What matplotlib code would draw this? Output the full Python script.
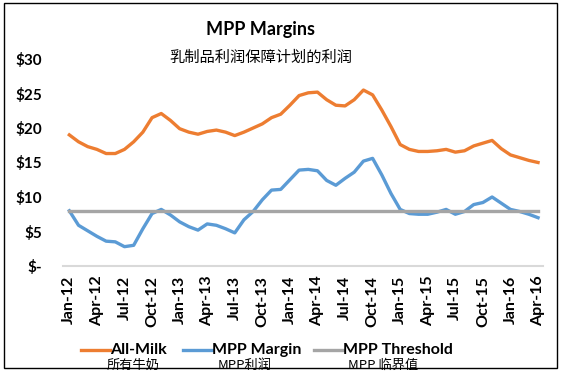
import matplotlib.pyplot as plt
from matplotlib.patches import Rectangle
from matplotlib.lines import Line2D

plt.rcParams['font.family'] = ['Lato', 'Noto Sans CJK SC', 'DejaVu Sans']

months = ['Jan', 'Feb', 'Mar', 'Apr', 'May', 'Jun', 'Jul', 'Aug', 'Sep', 'Oct', 'Nov', 'Dec']
labels = []
for yr in range(12, 17):
    for m in months:
        labels.append(f"{m}-{yr}")
labels = labels[:52]  # Jan-12 .. Apr-16

all_milk = [19.0, 18.0, 17.3, 16.9, 16.3, 16.3, 16.9, 18.0, 19.4, 21.5, 22.1, 21.1,
            19.9, 19.4, 19.1, 19.5, 19.7, 19.4, 18.9, 19.4, 20.0, 20.6, 21.5, 22.0,
            23.3, 24.7, 25.1, 25.2, 24.1, 23.3, 23.2, 24.1, 25.5, 24.8, 22.6, 20.2,
            17.6, 16.9, 16.6, 16.6, 16.7, 16.9, 16.5, 16.7, 17.4, 17.8, 18.2, 17.0,
            16.1, 15.7, 15.3, 15.0]
mpp_margin = [8.0, 5.9, 5.1, 4.3, 3.6, 3.5, 2.8, 3.0, 5.4, 7.6, 8.2, 7.4,
              6.4, 5.7, 5.2, 6.1, 5.9, 5.4, 4.8, 6.7, 7.9, 9.6, 11.0, 11.1,
              12.5, 13.9, 14.0, 13.8, 12.4, 11.7, 12.7, 13.6, 15.2, 15.6, 13.2, 10.5,
              8.2, 7.6, 7.5, 7.5, 7.8, 8.2, 7.5, 7.9, 8.9, 9.2, 10.0, 9.1,
              8.2, 7.9, 7.5, 7.0]
threshold = [8.0] * 52

W, H = 561, 379
fig = plt.figure(figsize=(W / 100, H / 100), dpi=100)
ax = fig.add_axes([63 / W, 1 - 266 / H, (543 - 63) / W, (266 - 59) / H])

x = list(range(len(labels)))
ax.plot(x, all_milk, color='#ED7D31', lw=2.4, label='All-Milk')
ax.plot(x, mpp_margin, color='#5B9BD5', lw=2.4, label='MPP Margin')
ax.plot(x, threshold, color='#A5A5A5', lw=2.4, label='MPP Threshold')

ax.set_xlim(-0.69, 51.54)
ax.set_ylim(0, 30)
ax.set_yticks([0, 5, 10, 15, 20, 25, 30])
ax.set_yticklabels(['$-', '$5', '$10', '$15', '$20', '$25', '$30'],
                   fontsize=11, fontweight='bold')
ax.set_xticks(x[::3])
ax.set_xticklabels(labels[::3], rotation=90, fontsize=11.5, fontweight='bold')
ax.tick_params(length=0)
ax.tick_params(axis='y', pad=15)
ax.tick_params(axis='x', pad=7)
for s in ['top', 'right', 'left']:
    ax.spines[s].set_visible(False)
ax.spines['bottom'].set_color('#D9D9D9')
ax.spines['bottom'].set_linewidth(1.5)

fig.text(261 / W, 1 - 29 / H, 'MPP Margins', ha='center', va='center',
         fontsize=13, fontweight='bold')
fig.text(261 / W, 1 - 57 / H, '乳制品利润保障计划的利润', ha='center', va='center',
         fontsize=11, family=['Noto Sans CJK SC'])

# legend drawn by hand
leg_items = [(81, '#ED7D31', 'All-Milk', 133, '所有牛奶'),
             (183, '#5B9BD5', 'MPP Margin', 245, 'MPP利润'),
             (314, '#A5A5A5', 'MPP Threshold', 383, 'MPP 临界值')]
for x0, col, txt, cx, cn in leg_items:
    fig.add_artist(Line2D([x0 / W, (x0 + 29) / W], [1 - 350 / H, 1 - 350 / H],
                          color=col, lw=2.4, transform=fig.transFigure))
    fig.text((x0 + 29) / W, 1 - 350 / H, txt, ha='left', va='center',
             fontsize=11.5, fontweight='bold')
    fig.text(cx / W, 1 - 365 / H, cn, ha='center', va='center',
             fontsize=9.5, family=['Noto Sans CJK SC'])

fig.add_artist(Rectangle((4 / W, 1 - 368 / H), (557 - 4) / W, (368 - 3) / H,
                         transform=fig.transFigure, fill=False, ec='black', lw=1))

fig.savefig('out.png', dpi=100)
